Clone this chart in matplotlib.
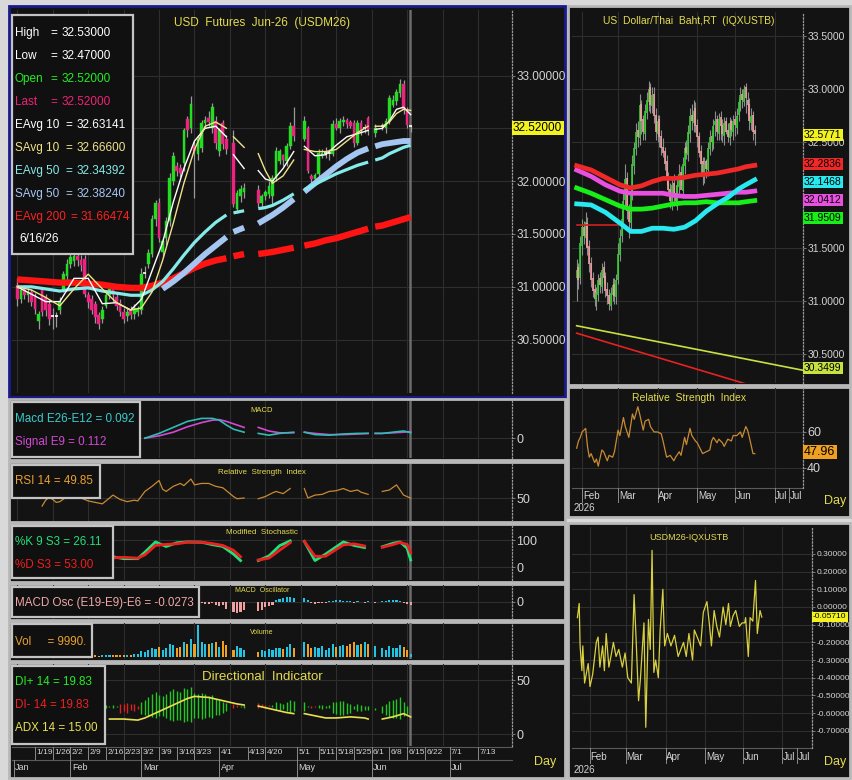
import matplotlib.pyplot as plt
import matplotlib.patches as mpatches
import matplotlib.transforms as mtransforms
import numpy as np

plt.rcParams["font.family"] = ["Liberation Sans", "DejaVu Sans"]

nan = np.nan

# x = weekday index counted from Mon 12 Jan 2026 (None = TFEX holiday)
# ---- USDM26 daily bars
fut_open = [
    31.02, 30.88, 30.97, 30.92, 30.95, 30.90, 30.68, 30.98, 30.90, 30.84,
    30.72, 30.72, 30.78, 30.98, 31.10, 31.22, 31.24, 31.29, 31.25, 31.26,
    30.92, 30.88, 30.84, 30.73, 30.70, 30.82, 30.92, 30.98, 30.90, 30.85,
    30.76, 30.72, 30.78, 30.74, 30.76, 30.78, 31.13, 31.22, 31.31, 31.64,
    31.79, 31.33, 31.46, 31.62, 32.00, 32.14, 32.12, 32.17, 32.59, 32.50,
    32.33, 32.26, 32.31, 32.55, 32.60, 32.50, 32.57, 32.29, 32.55, 32.40,
    None, 32.36, 31.74, 31.86, 31.90, None, None, None, 31.92, 31.79,
    31.86, 31.88, 31.86, 32.03, 32.19, 32.25, 32.19, 32.33, 32.52, None,
    None, 32.40, 32.50, 32.05, 32.02, 32.07, 32.24, 32.27, 32.27, 32.26,
    32.54, 32.50, 32.56, 32.58, 32.56, 32.55, 32.36, 32.55, 32.50, 32.60,
    None, 32.46, None, 32.52, 32.50, 32.57, 32.72, 32.76, 32.83, 32.92,
    32.67, 32.52]
fut_high = [
    31.08, 31.00, 31.02, 31.00, 30.98, 30.94, 30.77, 31.00, 30.93, 30.88,
    30.80, 30.76, 30.90, 31.15, 31.26, 31.32, 31.35, 31.33, 31.30, 31.30,
    30.95, 30.92, 30.87, 30.76, 30.82, 30.95, 31.02, 31.00, 30.94, 30.88,
    30.80, 30.80, 30.82, 30.84, 30.82, 31.18, 31.20, 31.36, 31.68, 31.82,
    31.84, 31.46, 31.66, 32.08, 32.28, 32.18, 32.16, 32.50, 32.62, 32.81,
    32.38, 32.44, 32.58, 32.62, 32.66, 32.74, 32.62, 32.50, 32.58, 32.44,
    None, 32.48, 31.92, 31.96, 31.98, None, None, None, 31.96, 31.88,
    31.92, 32.00, 32.06, 32.32, 32.30, 32.26, 32.36, 32.56, 32.70, None,
    None, 32.62, 32.52, 32.07, 32.08, 32.30, 32.30, 32.32, 32.30, 32.58,
    32.60, 32.60, 32.62, 32.60, 32.58, 32.58, 32.58, 32.58, 32.54, 32.62,
    None, 32.54, None, 32.55, 32.60, 32.82, 32.82, 32.87, 32.97, 32.96,
    32.70, 32.53]
fut_low = [
    30.82, 30.85, 30.88, 30.86, 30.82, 30.74, 30.60, 30.72, 30.72, 30.64,
    30.60, 30.62, 30.74, 30.95, 31.05, 31.18, 31.20, 31.20, 31.15, 30.90,
    30.80, 30.74, 30.66, 30.60, 30.66, 30.80, 30.88, 30.86, 30.78, 30.72,
    30.66, 30.68, 30.70, 30.70, 30.72, 30.74, 31.08, 31.18, 31.28, 31.58,
    31.42, 31.28, 31.40, 31.58, 31.96, 32.05, 32.04, 32.10, 32.42, 32.46,
    31.84, 32.20, 32.28, 32.50, 32.52, 32.46, 32.30, 32.24, 32.30, 32.26,
    None, 31.76, 31.70, 31.80, 31.84, None, None, None, 31.76, 31.74,
    31.82, 31.84, 31.78, 32.00, 32.16, 32.14, 32.14, 32.30, 32.38, None,
    None, 32.38, 32.08, 31.98, 32.00, 32.04, 32.22, 32.22, 32.20, 32.24,
    32.48, 32.46, 32.52, 32.50, 32.50, 32.32, 32.34, 32.44, 32.46, 32.44,
    None, 32.42, None, 32.48, 32.46, 32.54, 32.70, 32.72, 32.80, 32.64,
    32.50, 32.47]
fut_close = [
    30.88, 30.97, 30.92, 30.95, 30.86, 30.79, 30.74, 30.76, 30.78, 30.70,
    30.72, 30.72, 30.86, 31.12, 31.22, 31.28, 31.29, 31.25, 31.21, 30.93,
    30.86, 30.78, 30.71, 30.65, 30.78, 30.92, 30.98, 30.92, 30.82, 30.76,
    30.70, 30.76, 30.73, 30.80, 30.79, 31.12, 31.13, 31.32, 31.64, 31.79,
    31.46, 31.43, 31.62, 32.03, 32.24, 32.10, 32.08, 32.48, 32.48, 32.73,
    32.29, 32.40, 32.55, 32.58, 32.56, 32.70, 32.36, 32.48, 32.35, 32.30,
    None, 31.78, 31.89, 31.93, 31.94, None, None, None, 31.79, 31.86,
    31.90, 31.95, 32.03, 32.29, 32.29, 32.20, 32.33, 32.52, 32.43, None,
    None, 32.57, 32.10, 32.02, 32.06, 32.27, 32.27, 32.27, 32.27, 32.54,
    32.50, 32.57, 32.58, 32.54, 32.52, 32.36, 32.55, 32.48, 32.50, 32.48,
    None, 32.50, None, 32.52, 32.57, 32.79, 32.77, 32.84, 32.92, 32.67,
    32.53, 32.52]
fut_volume = [
    6000, 5000, 7000, 5000, 6000, 8000, 7000, 6000, 5000, 6000,
    5000, 6000, 7000, 9000, 8000, 7000, 6000, 5000, 6000, 8000,
    5000, 4000, 5000, 4000, 5000, 6000, 5000, 6000, 5000, 6000,
    5000, 7000, 6000, 8000, 9000, 18000, 14000, 20000, 26000, 24000,
    30000, 22000, 26000, 40000, 36000, 28000, 30000, 46000, 38000, 55000,
    40000, 96000, 45000, 40000, 38000, 42000, 46000, 30000, 48000, 35000,
    None, 20000, 32000, 26000, 22000, None, None, None, 16000, 22000,
    18000, 24000, 20000, 28000, 26000, 24000, 30000, 38000, 26000, None,
    None, 46000, 38000, 26000, 30000, 28000, 34000, 22000, 26000, 40000,
    30000, 34000, 36000, 32000, 40000, 44000, 36000, 40000, 44000, 38000,
    None, 32000, None, 26000, 22000, 32000, 28000, 26000, 36000, 30000,
    22000, 9990]

# ---- moving averages on the futures chart (read at sample days)
ma_x = [0, 4, 8, 12, 16, 20, 24, 28, 32, 35,
        38, 41, 44, 47, 50, 53, 56, 59, 60, 61,
        64, 66, 68, 70, 72, 75, 78, 79, 81, 84,
        87, 90, 93, 96, 99, 100, 101, 103, 105, 107,
        109, 111]
ema200 = [31.07, 31.06, 31.05, 31.04, 31.04, 31.03, 31.02, 31.00, 30.99, 30.99,
          31.01, 31.04, 31.08, 31.13, 31.18, 31.22, 31.25, 31.27, nan, 31.29,
          31.31, nan, 31.31, 31.32, 31.33, 31.35, 31.37, nan, 31.39, 31.41,
          31.44, 31.46, 31.49, 31.52, 31.55, nan, 31.57, 31.58, 31.60, 31.62,
          31.64, 31.66]
ema50 = [31.00, 31.00, 30.98, 30.96, 30.98, 30.99, 30.96, 30.94, 30.92, 30.92,
         30.97, 31.05, 31.17, 31.30, 31.42, 31.52, 31.61, 31.68, nan, 31.70,
         31.72, nan, 31.74, 31.75, 31.77, 31.82, 31.88, nan, 31.92, 31.97,
         32.02, 32.07, 32.11, 32.15, 32.18, nan, 32.20, 32.22, 32.26, 32.29,
         32.32, 32.34]
sma50 = [nan, nan, nan, nan, nan, nan, nan, nan, nan, nan,
         nan, 30.98, 31.05, 31.13, 31.22, 31.31, 31.39, 31.47, nan, 31.52,
         31.56, nan, 31.60, 31.64, 31.68, 31.75, 31.83, nan, 31.90, 31.98,
         32.06, 32.14, 32.21, 32.27, 32.31, nan, 32.33, 32.35, 32.36, 32.37,
         32.38, 32.38]
ema10 = [31.00, 30.93, 30.86, 30.86, 31.08, 31.08, 30.84, 30.85, 30.78, 30.88,
         31.15, 31.42, 31.80, 32.12, 32.38, 32.50, 32.52, 32.42, nan, 32.25,
         32.12, nan, 32.10, 32.02, 32.00, 32.12, 32.28, nan, 32.33, 32.24,
         32.25, 32.34, 32.42, 32.45, 32.48, nan, 32.49, 32.50, 32.57, 32.68,
         32.70, 32.63]
sma10 = [31.00, 30.97, 30.90, 30.82, 30.98, 31.12, 30.98, 30.85, 30.78, 30.80,
         30.95, 31.25, 31.60, 31.98, 32.30, 32.52, 32.56, 32.50, nan, 32.42,
         32.32, nan, 32.26, 32.10, 31.98, 32.05, 32.20, nan, 32.30, 32.28,
         32.28, 32.30, 32.38, 32.46, 32.52, nan, 32.52, 32.52, 32.56, 32.64,
         32.68, 32.67]

# ---- indicator panels
macd_x = [36, 40, 44, 48, 52, 55, 57, 59, 61, 64, 66, 68, 71, 74, 78, 79, 81, 84,
          88, 92, 96, 99, 100, 101, 103, 106, 109, 111]
macd_line = [0.00, 0.08, 0.18, 0.28, 0.33, 0.33, 0.30, 0.22, 0.15, 0.10, nan, 0.08,
             0.05, 0.08, 0.10, nan, 0.10, 0.06, 0.05, 0.07, 0.08, 0.08, nan, 0.08,
             0.08, 0.10, 0.12, 0.092]
macd_signal = [0.00, 0.04, 0.10, 0.19, 0.26, 0.30, 0.31, 0.28, 0.24, 0.18, nan, 0.18,
               0.12, 0.09, 0.09, nan, 0.10, 0.08, 0.06, 0.06, 0.07, 0.08, nan, 0.08,
               0.08, 0.09, 0.10, 0.112]

rsi_x = [7, 8, 9, 10, 11, 12, 14, 16, 18, 20, 22, 24, 26, 27, 29, 31, 33, 34, 36, 38,
         40, 41, 42, 44, 46, 47, 49, 50, 52, 54, 56, 58, 59, 61, 62, 64, 66, 68, 70, 72,
         73, 75, 77, 79, 81, 82, 84, 86, 88, 90, 92, 94, 96, 97, 99, 100, 101, 102, 103,
         105, 107, 109, 111]
rsi_val = [39, 47, 51, 48, 44, 45, 52, 55, 50, 46, 44, 42, 50, 54, 48, 45, 47, 46, 59, 66,
           74, 62, 59, 66, 70, 67, 76, 68, 70, 70, 66, 64, 60, 52, 49, 50, nan, 49, 52, 57,
           59, 56, 63, nan, 63, 50, 54, 55, 59, 60, 63, 59, 61, 58, 55, nan, 56, nan, 59,
           61, 68, 54, 49.85]

stoch_x = [27, 30, 34, 36, 39, 42, 45, 48, 52, 55, 58, 61, 63, 65, 68, 71, 74, 77, 79,
           81, 84, 87, 92, 95, 98, 100, 101, 102, 103, 106, 108, 110, 111]
stoch_k = [38, 31, 31, 55, 93, 76, 90, 93, 92, 83, 76, 48, 24, nan, 24, 41, 79, 97, nan,
           95, 24, 48, 93, 80, 72, nan, 69, nan, 75, 88, 93, 70, 26.11]
stoch_d = [34, 36, 33, 45, 80, 84, 86, 92, 92, 87, 80, 62, 38, nan, 26, 33, 62, 90, nan,
           95, 40, 40, 82, 86, 78, nan, 72, nan, 73, 83, 91, 84, 53.00]

osc_first_day = 52
macd_osc = [-0.01, -0.02, -0.02, -0.01, -0.03, -0.04, -0.03, -0.06, nan, -0.09,
            -0.10, -0.09, -0.07, nan, nan, nan, -0.08, -0.07, -0.05, -0.04,
            -0.03, 0.02, 0.03, 0.04, 0.05, 0.05, 0.04, nan, nan, 0.04,
            0.02, -0.01, -0.015, -0.01, -0.01, -0.01, 0.005, 0.01, 0.015, 0.015,
            0.01, 0.01, 0.005, -0.005, 0.005, 0.0, -0.005, 0.005, nan, -0.005,
            nan, 0.005, 0.01, 0.015, 0.02, 0.02, 0.01, -0.01, -0.02, -0.0273]

di_first_day = 25
di_plus = [27, 26, 27, 26, 20, 21, 20, 22, 21, 23,
           30, 32, 34, 37, 39, 36, 35, 37, 40, 42,
           40, 39, 43, 42, 44, 38, 37, 38, 37, 35,
           36, 33, 32, 30, 29, nan, 24, 25, 26, 27,
           nan, nan, nan, 24, 25, 24, 26, 27, 30, 29,
           28, 30, 32, 31, nan, nan, 30, 26, 24, 25,
           27, 27, 26, 27, 30, 30, 31, 31, 29, 28,
           26, 28, 27, 26, 26, nan, 24, nan, 26, 28,
           31, 32, 33, 34, 30, 26, 19.83]
di_minus = [24, 25, 24, 25, 28, 28, 29, 28, 28, 26,
            19, 18, 17, 16, 15, 17, 17, 15, 13, 12,
            13, 13, 11, 12, 11, 15, 15, 14, 15, 16,
            15, 18, 18, 20, 21, nan, 28, 27, 25, 24,
            nan, nan, nan, 29, 28, 27, 27, 25, 22, 22,
            23, 21, 20, 21, nan, nan, 21, 25, 26, 26,
            24, 23, 24, 24, 20, 19, 18, 18, 19, 20,
            23, 21, 21, 22, 22, nan, 22, nan, 20, 18,
            16, 15, 15, 14, 17, 19, 19.83]
adx_x = [26, 30, 34, 36, 40, 44, 48, 50, 54, 58, 62, 64, 66, 68, 72, 76, 78, 79, 81, 84,
         87, 90, 94, 98, 99, 100, 101, 102, 103, 106, 109, 111]
adx_val = [14, 14, 13, 15, 21, 27, 33, 35, 34, 31, 28, 27, nan, 26, 23, 20, 19, nan, 19, 17,
           15, 15, 16, 15, 14, nan, 14, nan, 14, 16, 19, 16]

# ---- USD/THB spot (right), bars from day 12
spot_first_day = 12
spot_open = [
    31.22, 31.32, 31.22, 31.52, 31.70, 31.60, 31.74, 31.52, 31.36, 31.22,
    31.12, 31.00, 31.06, 31.22, 31.14, 31.32, 31.24, 31.12, 31.06, 30.96,
    31.06, 31.16, 31.04, 31.20, 31.44, 31.62, 31.76, 31.96, 32.16, 31.86,
    31.74, 32.02, 32.28, 32.44, 32.62, 32.54, 32.86, 32.72, 32.58, 32.78,
    32.88, 33.02, 32.84, 32.96, 32.76, 32.58, 32.72, 32.56, 32.46, 32.42,
    32.32, 32.16, 32.06, 31.94, 32.12, 32.02, 31.94, 32.08, 32.22, 32.04,
    32.28, 32.46, 32.38, 32.58, 32.76, 32.68, 32.82, 32.66, 32.56, 32.42,
    32.32, 32.18, 32.32, 32.24, 32.44, 32.56, 32.48, 32.66, 32.72, 32.58,
    32.74, 32.66, 32.56, 32.70, 32.62, 32.54, 32.70, 32.60, 32.72, 32.64,
    32.76, 32.86, 32.96, 32.88, 33.02, 32.90, 32.86, 32.68, 32.76, 32.62]
spot_high = [
    31.40, 31.36, 31.62, 31.78, 31.76, 31.84, 31.80, 31.58, 31.42, 31.28,
    31.16, 31.14, 31.26, 31.28, 31.36, 31.38, 31.28, 31.18, 31.12, 31.14,
    31.22, 31.22, 31.26, 31.55, 31.68, 31.86, 32.02, 32.30, 32.22, 31.92,
    32.06, 32.38, 32.50, 32.68, 32.70, 32.96, 32.90, 32.76, 32.86, 32.98,
    33.08, 33.06, 33.02, 33.02, 32.82, 32.76, 32.76, 32.62, 32.54, 32.46,
    32.38, 32.22, 32.12, 32.16, 32.20, 32.10, 32.16, 32.30, 32.28, 32.36,
    32.50, 32.52, 32.66, 32.82, 32.86, 32.90, 32.88, 32.72, 32.60, 32.48,
    32.36, 32.36, 32.34, 32.50, 32.62, 32.60, 32.72, 32.80, 32.76, 32.78,
    32.80, 32.72, 32.74, 32.74, 32.68, 32.74, 32.72, 32.76, 32.80, 32.82,
    32.92, 33.02, 33.00, 33.04, 33.06, 32.98, 32.92, 32.82, 32.80, 32.66]
spot_low = [
    31.00, 31.12, 31.16, 31.44, 31.54, 31.52, 31.44, 31.28, 31.14, 31.04,
    30.96, 30.92, 31.00, 31.08, 31.08, 31.16, 31.04, 30.98, 30.92, 30.92,
    31.00, 30.98, 30.98, 31.16, 31.38, 31.56, 31.70, 31.90, 31.78, 31.60,
    31.68, 31.96, 32.20, 32.38, 32.46, 32.48, 32.58, 32.52, 32.52, 32.72,
    32.80, 32.78, 32.78, 32.68, 32.52, 32.50, 32.46, 32.38, 32.36, 32.24,
    32.10, 32.00, 31.88, 31.86, 31.90, 31.90, 31.86, 32.00, 32.10, 31.98,
    32.20, 32.34, 32.32, 32.50, 32.62, 32.60, 32.60, 32.46, 32.36, 32.18,
    32.10, 32.12, 32.16, 32.18, 32.38, 32.42, 32.44, 32.56, 32.52, 32.52,
    32.52, 32.50, 32.48, 32.58, 32.50, 32.48, 32.56, 32.52, 32.56, 32.58,
    32.70, 32.80, 32.82, 32.84, 32.78, 32.76, 32.62, 32.62, 32.52, 32.48]
spot_close = [
    31.30, 31.20, 31.55, 31.70, 31.62, 31.75, 31.50, 31.35, 31.20, 31.10,
    31.02, 31.08, 31.20, 31.15, 31.30, 31.22, 31.10, 31.05, 30.98, 31.08,
    31.15, 31.05, 31.20, 31.45, 31.60, 31.78, 31.95, 32.15, 31.85, 31.75,
    32.00, 32.30, 32.45, 32.60, 32.55, 32.85, 32.70, 32.60, 32.80, 32.90,
    33.00, 32.85, 32.95, 32.75, 32.60, 32.70, 32.55, 32.45, 32.40, 32.30,
    32.15, 32.05, 31.95, 32.10, 32.00, 31.95, 32.10, 32.20, 32.05, 32.30,
    32.45, 32.40, 32.60, 32.75, 32.70, 32.80, 32.65, 32.55, 32.40, 32.30,
    32.20, 32.30, 32.25, 32.45, 32.55, 32.50, 32.65, 32.70, 32.60, 32.72,
    32.65, 32.58, 32.68, 32.60, 32.55, 32.68, 32.62, 32.70, 32.66, 32.75,
    32.88, 32.95, 32.90, 33.00, 32.92, 32.85, 32.70, 32.75, 32.60, 32.5771]

rma_x = [12, 20, 28, 36, 42, 48, 54, 60, 66, 72, 78, 84, 90, 96, 102, 106, 111]
rma_red = [32.28, 32.24, 32.17, 32.10, 32.07, 32.09, 32.13, 32.16, 32.16, 32.17, 32.19,
           32.20, 32.21, 32.23, 32.25, 32.27, 32.2836]
rma_magenta = [32.24, 32.18, 32.10, 32.04, 32.02, 32.02, 32.02, 32.02, 32.00, 31.99, 31.99,
               32.00, 32.01, 32.02, 32.03, 32.03, 32.0412]
rma_green = [32.07, 32.02, 31.96, 31.90, 31.87, 31.87, 31.88, 31.90, 31.92, 31.93, 31.93,
             31.94, 31.93, 31.93, 31.93, 31.94, 31.9509]
rma_cyan = [31.92, 31.91, 31.84, 31.74, 31.66, 31.66, 31.69, 31.69, 31.68, 31.70, 31.76,
            31.85, 31.92, 31.98, 32.06, 32.10, 32.1468]
trend_yellow = ([12, 137.8], [30.77, 30.35])
trend_red = ([12, 126], [30.70, 30.12])
ref_line = ([12, 35], [31.72, 31.72])

rsi2_x = [12, 13, 14, 15, 17, 18, 19, 20, 22, 23, 24, 26, 27, 29, 30, 32, 33, 35, 36, 38,
          39, 41, 43, 44, 46, 47, 49, 50, 52, 53, 55, 57, 59, 60, 62, 64, 66, 67, 69, 70,
          72, 73, 75, 76, 78, 79, 82, 84, 86, 87, 88, 90, 91, 93, 94, 96, 98, 99, 101, 103,
          104, 106, 107, 108, 110, 111]
rsi2_val = [51, 55, 57, 60, 62, 52, 46, 48, 43, 45, 41, 50, 49, 44, 47, 46, 49, 61, 58, 68,
            63, 57, 70, 67, 74, 70, 61, 66, 67, 63, 60, 60, 59, 55, 46, 47, 44, 46, 49, 47,
            57, 53, 62, 58, 55, 54, 48, 49, 50, 55, 57, 54, 56, 54, 52, 56, 55, 58, 58, 60,
            57, 63, 61, 57, 48, 47.96]

spread_x = [8, 9, 9.5, 10.5, 11, 12, 14, 15, 16.5, 18.5, 19.5, 20.5, 22, 23, 24, 25.5, 27,
            28, 29.5, 31, 33, 34.5, 36, 38, 39.5, 40.5, 42, 43, 45, 46, 47.5, 48.5, 49.5,
            50.5, 51.5, 53, 54, 55.5, 56.5, 58, 60, 62, 64, 67, 68.5, 70, 72, 73, 75, 76.5,
            78, 80, 81.5, 82.5, 84, 85.5, 87, 89, 90.5, 92, 93, 94.5, 96, 98, 99.5, 101,
            101.5, 103, 104, 105.5, 107, 108, 109.5, 110.5]
spread_val = [-0.06, 0.02, -0.22, -0.36, -0.22, -0.43, -0.32, -0.45, -0.38, -0.20, -0.17,
              -0.34, -0.22, -0.36, -0.15, -0.34, -0.26, -0.20, -0.28, -0.24, -0.34, -0.26,
              -0.40, -0.43, 0.07, -0.15, -0.53, -0.41, -0.09, -0.68, -0.07, -0.24, 0.32,
              -0.37, -0.30, -0.40, -0.13, 0.10, -0.22, -0.15, -0.22, -0.16, -0.28, -0.20,
              -0.28, -0.15, -0.30, -0.13, -0.18, -0.22, -0.03, 0.03, -0.11, -0.22, -0.02,
              -0.11, -0.17, 0.00, -0.10, 0.02, -0.11, -0.05, -0.02, -0.11, -0.09, -0.09,
              -0.06, -0.28, -0.06, -0.08, 0.15, -0.15, -0.02, -0.0571]

week_ticks = [5, 10, 15, 20, 25, 30, 35, 40, 45, 50, 57, 65, 70, 79, 85, 90, 95, 100,
              105, 110, 115, 122, 130]
week_labels = ["1/19", "1/26", "2/2", "2/9", "2/16", "2/23", "3/2", "3/9", "3/16", "3/23",
               "4/1", "4/13", "4/20", "5/1", "5/11", "5/18", "5/25", "6/1", "6/8", "6/15",
               "6/22", "7/1", "7/13"]
month_ticks = [-1, 15, 35, 57, 79, 100, 122]
month_labels = ["Jan", "Feb", "Mar", "Apr", "May", "Jun", "Jul"]
rmonth_ticks = [15, 35, 57, 79, 100, 122, 130]
rmonth_labels = ["Feb", "Mar", "Apr", "May", "Jun", "Jul", "Jul"]
today = 110.8

W, H = 853, 780
BG = "#131313"
GRID = "#2e2e2e"
TICK = "#d4d4d4"
UP, DOWN = "#22dd22", "#ee2280"
TITLE = "#e4dc50"

fig = plt.figure(figsize=(W / 100, H / 100), dpi=100)
fig.patch.set_facecolor("#d9d9d9")


def to_arr(v):
    return np.array([nan if a is None else a for a in v], dtype=float)


def add_ax(x0, y0, x1, y1):
    ax = fig.add_axes([x0 / W, 1 - y1 / H, (x1 - x0) / W, (y1 - y0) / H])
    ax.set_facecolor("none")
    for s in ax.spines.values():
        s.set_visible(False)
    ax.tick_params(axis="x", bottom=False, labelbottom=False)
    return ax


def panel(x0, y0, x1, y1, edge="#b8b8b8", lw=2.0):
    fig.add_artist(mpatches.Rectangle((x0 / W, 1 - y1 / H), (x1 - x0) / W, (y1 - y0) / H,
                                      transform=fig.transFigure, facecolor=BG,
                                      edgecolor=edge, linewidth=lw, zorder=-2))


def legend_box(x0, y0, x1, y1):
    fig.add_artist(mpatches.Rectangle((x0 / W, 1 - y1 / H), (x1 - x0) / W, (y1 - y0) / H,
                                      transform=fig.transFigure, facecolor="#101010",
                                      edgecolor="#c4c4c4", linewidth=1.6, zorder=4))


def label(x, y, s, color, size=8.5, ha="left", va="center", **kw):
    fig.text(x / W, 1 - y / H, s, color=color, fontsize=size, ha=ha, va=va, zorder=6, **kw)


def value_box(x, y, s, bg, size=7.5):
    fig.text(x / W, 1 - y / H, s, color="black", fontsize=size, ha="left", va="center",
             zorder=7, bbox=dict(facecolor=bg, edgecolor="none", pad=1.0))


def right_axis(ax, ticks, fmt, size=8, grid=True):
    ax.yaxis.tick_right()
    ax.set_yticks(ticks)
    ax.set_yticklabels([fmt.format(t) for t in ticks])
    ax.tick_params(axis="y", colors="#8a8a8a", labelcolor=TICK, labelsize=size,
                   length=2, width=0.6, pad=1)
    ax.spines["right"].set_visible(True)
    ax.spines["right"].set_color("#9a9a9a")
    ax.spines["right"].set_linestyle(":")
    ax.spines["right"].set_linewidth(0.9)
    if grid:
        for t in ticks:
            ax.axhline(t, color=GRID, lw=0.8, zorder=0.5)


def vgrid(ax, xs):
    for x in xs:
        ax.axvline(x, color=GRID, lw=0.8, zorder=0.5)


def date_strip(ax, xlim, y_top, ticks, labels, y_lab, y_sep, size=6.5):
    bt = mtransforms.blended_transform_factory(ax.transData, fig.transFigure)
    ax.plot(list(xlim), [1 - y_top / H] * 2, transform=bt, clip_on=False,
            color="#5a5a5a", lw=0.8)
    for x, s in zip(ticks, labels):
        ax.plot([x, x], [1 - y_top / H, 1 - y_sep / H], transform=bt, clip_on=False,
                color="#8a8a8a", lw=0.7)
        ax.text(x + 0.4, 1 - y_lab / H, s, transform=bt, color=TICK, fontsize=size,
                ha="left", va="center")


# ------------------------------------------------------------------ left side
panel(9, 6, 565, 397, edge="#1a1a8c", lw=2.0)
panel(9, 399, 565, 460)
panel(9, 462, 565, 522)
panel(9, 524, 565, 582)
panel(9, 584, 565, 620)
panel(9, 622, 565, 661)
panel(9, 663, 565, 778)

LX0, LX1 = 12, 512
XL = (-1.5, 139.6)
grid_days = list(range(0, 140, 10))

# main price panel
ax = add_ax(LX0, 10, LX1, 393)
ax.set_xlim(*XL)
ax.set_ylim(29.995, 33.62)
right_axis(ax, [30.5, 31.0, 31.5, 32.0, 33.0], "{:.5f}", size=8.5)
ax.axhline(32.5, color=GRID, lw=0.8, zorder=0.5)
vgrid(ax, grid_days)
ax.axvline(today, color="#6c6c6c", lw=1.8, zorder=1)
o, h, l, c = map(to_arr, (fut_open, fut_high, fut_low, fut_close))
for i in range(len(o)):
    if np.isnan(o[i]):
        continue
    ax.vlines(i, l[i], h[i], color="#9a9a9a", lw=0.9, zorder=2)
    if abs(c[i] - o[i]) < 0.005:
        ax.hlines(c[i], i - 0.45, i + 0.45, color="white", lw=1.2, zorder=3)
        continue
    col = UP if c[i] > o[i] else DOWN
    ax.add_patch(mpatches.Rectangle((i - 0.38, min(o[i], c[i])), 0.76, abs(c[i] - o[i]),
                                    facecolor=col, edgecolor=col, lw=0.3, zorder=3))
ax.plot(ma_x, ema200, color="#ff1414", lw=4.6, zorder=4, solid_capstyle="butt")
ax.plot(ma_x, sma50, color="#a6c6f2", lw=4.2, zorder=4, solid_capstyle="butt")
ax.plot(ma_x, ema50, color="#86eaea", lw=2.3, zorder=4, solid_capstyle="butt")
ax.plot(ma_x, ema10, color="white", lw=1.0, zorder=5)
ax.plot(ma_x, sma10, color="#f0e38a", lw=1.0, zorder=5)
label(262, 23, "USD  Futures  Jun-26  (USDM26)", TITLE, size=8.5, ha="center")
value_box(513, 128, "32.52000", "#f2f21e", size=8.5)

legend_box(12, 15, 133, 254)
rows = [("High", "=", "32.53000", "white", 50, 62),
        ("Low", "=", "32.47000", "white", 50, 62),
        ("Open", "=", "32.52000", "#22ee22", 50, 62),
        ("Last", "=", "32.52000", "#ee2277", 50, 62),
        ("EAvg 10", "=", "32.63141", "white", 65, 77),
        ("SAvg 10", "=", "32.66600", "#f0e38a", 65, 77),
        ("EAvg 50", "=", "32.34392", "#86eaea", 65, 77),
        ("SAvg 50", "=", "32.38240", "#a6c6f2", 65, 77),
        ("EAvg 200", "=", "31.66474", "#ff2020", 70, 81)]
for k, (name, eq, val, col, xe, xv) in enumerate(rows):
    y = 33 + k * 23
    label(15, y, name, col, size=8.5)
    label(xe, y, eq, col, size=8.5)
    label(xv, y, val, col, size=8.5)
label(19, 239, "6/16/26", "white", size=8.5)

# MACD
ax = add_ax(LX0, 401, LX1, 458)
ax.set_xlim(*XL)
ax.set_ylim(-0.33, 0.62)
right_axis(ax, [0.0], "{:.0f}", size=9)
vgrid(ax, grid_days)
ax.axvline(today, color="#6c6c6c", lw=1.8, zorder=1)
ax.plot(macd_x, macd_signal, color="#d24ad2", lw=1.2, zorder=3)
ax.plot(macd_x, macd_line, color="#30bcb4", lw=1.2, zorder=3)
label(262, 410, "MACD", TITLE, size=5.5, ha="center")
legend_box(12, 402, 140, 457)
label(15, 419, "Macd E26-E12 = 0.092", "#38cccc", size=8.4)
label(15, 442, "Signal E9 = 0.112", "#d24ad2", size=8.4)

# RSI
ax = add_ax(LX0, 464, LX1, 521)
ax.set_xlim(*XL)
ax.set_ylim(18.5, 96.6)
right_axis(ax, [50], "{:.0f}", size=9)
vgrid(ax, grid_days)
ax.axvline(today, color="#6c6c6c", lw=1.8, zorder=1)
ax.plot(rsi_x, rsi_val, color="#c88a32", lw=0.9, zorder=3)
label(262, 473, "Relative  Strength  Index", TITLE, size=5.8, ha="center")
legend_box(12, 465, 100, 498)
label(15, 481, "RSI 14 = 49.85", "#e8a030", size=8.4)

# Stochastic
ax = add_ax(LX0, 526, LX1, 580)
ax.set_xlim(*XL)
ax.set_ylim(-48, 152)
right_axis(ax, [0, 100], "{:.0f}", size=9)
vgrid(ax, grid_days)
ax.axvline(today, color="#6c6c6c", lw=1.8, zorder=1)
ax.plot(stoch_x, stoch_k, color="#22e07a", lw=2.0, zorder=3)
ax.plot(stoch_x, stoch_d, color="#f01e1e", lw=2.0, zorder=3)
label(262, 533, "Modified  Stochastic", TITLE, size=5.8, ha="center")
legend_box(12, 526, 113, 578)
label(15, 542, "%K 9 S3 = 26.11", "#22e07a", size=8.4)
label(15, 565, "%D S3 = 53.00", "#f01e1e", size=8.4)

# MACD oscillator
ax = add_ax(LX0, 585, LX1, 619)
ax.set_xlim(*XL)
ax.set_ylim(-0.155, 0.155)
right_axis(ax, [0.0], "{:.0f}", size=9)
vgrid(ax, grid_days)
ax.axvline(today, color="#6c6c6c", lw=1.8, zorder=1)
osc = to_arr(macd_osc)
osc_days = np.arange(osc_first_day, osc_first_day + len(osc))
ax.bar(osc_days, osc, width=0.6,
       color=["#f0a0a0" if v < 0 else "#22c4e4" for v in np.nan_to_num(osc)], zorder=3)
label(262, 591, "MACD  Oscillator", TITLE, size=5, ha="center")
legend_box(12, 587, 199, 617)
label(15, 603, "MACD Osc (E19-E9)-E6 = -0.0273", "#f0a8a8", size=8.4)

# Volume
ax = add_ax(LX0, 623, LX1, 659)
ax.set_xlim(*XL)
ax.set_ylim(-6000, 102000)
right_axis(ax, [], "{:.0f}", grid=False)
vgrid(ax, grid_days)
ax.axvline(today, color="#6c6c6c", lw=1.8, zorder=1)
vol = to_arr(fut_volume)
vcol = ["#22c4e4" if (not np.isnan(o[i]) and c[i] >= o[i]) else "#f0a020" for i in range(len(vol))]
ax.bar(np.arange(len(vol)), vol, width=0.6, color=vcol, zorder=3)
label(262, 632, "Volume", TITLE, size=5, ha="center")
legend_box(12, 624, 92, 657)
label(15, 642, "Vol     = 9990.", "#e8a030", size=8.4)

# Directional indicator
ax = add_ax(LX0, 664, LX1, 746)
ax.set_xlim(*XL)
ax.set_ylim(-11, 65)
right_axis(ax, [0, 50], "{:.0f}", size=9)
vgrid(ax, grid_days)
ax.axvline(today, color="#6c6c6c", lw=1.8, zorder=1)
dp, dm = to_arr(di_plus), to_arr(di_minus)
di_days = np.arange(di_first_day, di_first_day + len(dp))
ax.vlines(di_days, dm, dp, colors=["#22c822" if a >= b else "#e02020" for a, b in zip(dp, dm)],
          lw=1.0, zorder=3)
ax.plot(adx_x, adx_val, color="#e8e050", lw=1.2, zorder=4)
label(262, 677, "Directional  Indicator", TITLE, size=9.5, ha="center")
legend_box(12, 666, 105, 744)
label(15, 682, "DI+ 14 = 19.83", "#22ee22", size=8.4)
label(15, 705, "DI- 14 = 19.83", "#f02020", size=8.4)
label(15, 728, "ADX 14 = 15.00", "#e8e050", size=8.4)

# date strip under the left panels
date_strip(ax, XL, 747, week_ticks, week_labels, 753, 760, size=6)
date_strip(ax, XL, 760, month_ticks, month_labels, 768, 776, size=6.5)
label(545, 762, "Day", TITLE, size=9, ha="center")

# ------------------------------------------------------------------ right side
panel(568, 6, 850, 385)
panel(568, 387, 850, 517)
panel(568, 523, 850, 778)

RXL = (9.4, 137.8)
ax = add_ax(572, 12, 803, 383)
ax.set_xlim(*RXL)
ax.set_ylim(30.23, 33.73)
right_axis(ax, [30.5, 31.0, 31.5, 32.5, 33.0, 33.5], "{:.4f}", size=7.5)
vgrid(ax, rmonth_ticks[:-1])
so, sh, sl, sc = map(to_arr, (spot_open, spot_high, spot_low, spot_close))
sd = np.arange(spot_first_day, spot_first_day + len(so))
ax.vlines(sd, sl, sh, color="#8c8c8c", lw=0.8, zorder=2)
ax.vlines(sd, np.minimum(so, sc), np.maximum(so, sc),
          colors=["#30d030" if b >= a else "#f0a0a0" for a, b in zip(so, sc)], lw=1.2, zorder=3)
ax.plot(*ref_line, color="#d02020", lw=1.2, zorder=3)
ax.plot(*trend_yellow, color="#c8e040", lw=1.2, zorder=3)
ax.plot(*trend_red, color="#e82020", lw=1.2, zorder=3)
ax.plot(rma_x, rma_green, color="#18ee18", lw=3.4, zorder=4)
ax.plot(rma_x, rma_magenta, color="#e850e0", lw=3.4, zorder=4)
ax.plot(rma_x, rma_cyan, color="#28e8f0", lw=3.4, zorder=4)
ax.plot(rma_x, rma_red, color="#f02828", lw=3.4, zorder=4)
label(689, 21, "US  Dollar/Thai  Baht,RT  (IQXUSTB)", TITLE, size=7.5, ha="center")
value_box(804, 135, "32.5771", "#f2f21e")
value_box(804, 164, "32.2836", "#f02828")
value_box(804, 182, "32.1468", "#28e8f0")
value_box(804, 200, "32.0412", "#e850e0")
value_box(804, 218, "31.9509", "#18ee18")
value_box(804, 368, "30.3499", "#c8e040")

# right RSI
ax = add_ax(572, 388, 803, 488)
ax.set_xlim(*RXL)
ax.set_ylim(28.9, 84.4)
right_axis(ax, [40, 60], "{:.0f}", size=9)
vgrid(ax, rmonth_ticks[:-1])
ax.plot(rsi2_x, rsi2_val, color="#c88a32", lw=0.9, zorder=3)
label(689, 398, "Relative  Strength  Index", TITLE, size=7.5, ha="center")
value_box(804, 452, "47.96", "#f0a020", size=9)
date_strip(ax, RXL, 488, rmonth_ticks, rmonth_labels, 496, 502, size=7)
label(574, 508, "2026", TICK, size=7)
label(835, 501, "Day", TITLE, size=9, ha="center")

# spread panel
SXL = (5.0, 138.4)
ax = add_ax(572, 527, 812, 748)
ax.set_xlim(*SXL)
ax.set_ylim(-0.797, 0.452)
sticks = [0.3, 0.2, 0.1, 0.0, -0.1, -0.2, -0.3, -0.4, -0.5, -0.6, -0.7]
right_axis(ax, sticks, "{:.5f}", size=6)
ax.set_yticklabels(["{:.5f}".format(t).replace("-0.00000", "0.00000") for t in sticks])
vgrid(ax, rmonth_ticks[:-1])
ax.plot(spread_x, spread_val, color="#d8d040", lw=0.9, zorder=3)
label(689, 537, "USDM26-IQXUSTB", TITLE, size=6.5, ha="center")
value_box(813, 617, "-0.05710", "#f2f21e", size=6)
date_strip(ax, SXL, 748, rmonth_ticks, rmonth_labels, 757, 763, size=7)
label(574, 770, "2026", TICK, size=7)
label(835, 762, "Day", TITLE, size=9, ha="center")

fig.savefig("out.png", dpi=100, facecolor=fig.get_facecolor())
